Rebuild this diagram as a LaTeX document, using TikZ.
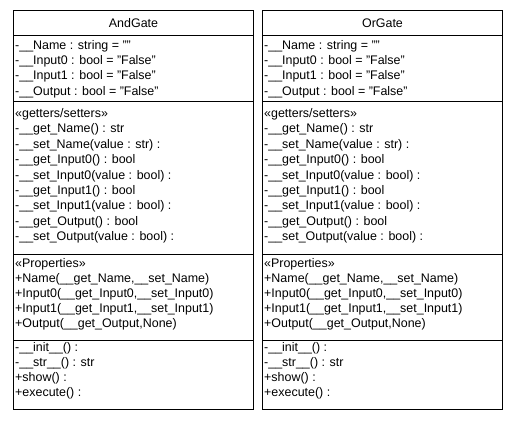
\documentclass[tikz,border=0pt]{standalone}
\usepackage{fontspec}
\setmainfont{Liberation Sans}
\begin{document}
\begin{tikzpicture}[x=1pt,y=-1pt,
  txt/.style={anchor=base west, inner sep=0pt, font=\fontsize{12.45}{14}\selectfont},
  ttl/.style={inner sep=0pt, font=\fontsize{12.45}{14}\selectfont},
  box/.style={draw=black, line width=1pt}]
\useasboundingbox (0,0) rectangle (511,422);
\foreach \s/\l/\r/\t in {L/13.5/253.5/AndGate, R/262.5/502.5/OrGate}{
  \pgfmathsetmacro\xt{\l+1.5}
  \pgfmathsetmacro\xc{(\l+\r)/2}
  \draw[box] (\l,10.5) rectangle (\r,409);
  \foreach \yy in {35.5,102,254,340} \draw[box] (\l,\yy) -- (\r,\yy);
  \node[ttl] (\s-title) at (\xc,23.3) {\t};
  % attributes
  \node[txt] (\s-a1) at (\xt,49.5) {-\_\_Name : string = ""};
  \node[txt] (\s-a2) at (\xt,64.7) {-\_\_Input0 : bool = "False"};
  \node[txt] (\s-a3) at (\xt,79.9) {-\_\_Input1 : bool = "False"};
  \node[txt] (\s-a4) at (\xt,95.1) {-\_\_Output : bool = "False"};
  % getters/setters
  \node[txt] (\s-g0) at (\xt,117.6) {«getters/setters»};
  \node[txt] (\s-g1) at (\xt,133.0) {-\_\_get\_Name() : str};
  \node[txt] (\s-g2) at (\xt,148.4) {-\_\_set\_Name(value : str) :};
  \node[txt] (\s-g3) at (\xt,163.8) {-\_\_get\_Input0() : bool};
  \node[txt] (\s-g4) at (\xt,179.2) {-\_\_set\_Input0(value : bool) :};
  \node[txt] (\s-g5) at (\xt,194.6) {-\_\_get\_Input1() : bool};
  \node[txt] (\s-g6) at (\xt,210.0) {-\_\_set\_Input1(value : bool) :};
  \node[txt] (\s-g7) at (\xt,225.4) {-\_\_get\_Output() : bool};
  \node[txt] (\s-g8) at (\xt,240.8) {-\_\_set\_Output(value : bool) :};
  % properties
  \node[txt] (\s-p0) at (\xt,267.6) {«Properties»};
  \node[txt] (\s-p1) at (\xt,282.6) {+Name(\_\_get\_Name,\_\_set\_Name)};
  \node[txt] (\s-p2) at (\xt,297.6) {+Input0(\_\_get\_Input0,\_\_set\_Input0)};
  \node[txt] (\s-p3) at (\xt,312.6) {+Input1(\_\_get\_Input1,\_\_set\_Input1)};
  \node[txt] (\s-p4) at (\xt,327.6) {+Output(\_\_get\_Output,None)};
  % methods
  \node[txt] (\s-m1) at (\xt,351.0) {-\_\_init\_\_() :};
  \node[txt] (\s-m2) at (\xt,366.0) {-\_\_str\_\_() : str};
  \node[txt] (\s-m3) at (\xt,381.0) {+show() :};
  \node[txt] (\s-m4) at (\xt,396.0) {+execute() :};
}
\end{tikzpicture}
\end{document}
